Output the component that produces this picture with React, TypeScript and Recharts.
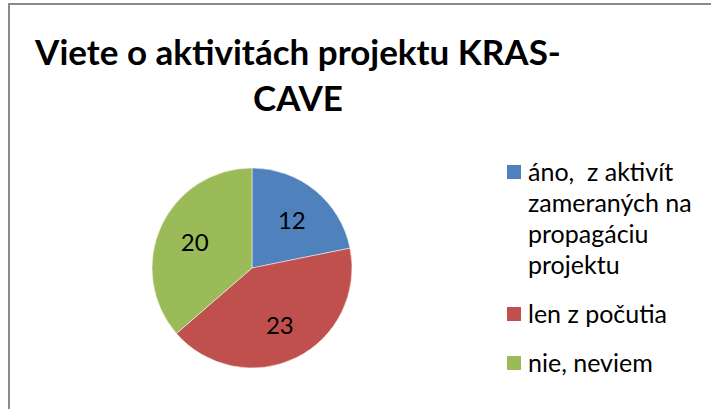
import React from "react";
import { PieChart, Pie, Cell, Legend } from "recharts";

const categories = [
  "áno,  z aktivít zameraných na propagáciu projektu",
  "len z počutia",
  "nie, neviem",
];
const counts = [12, 23, 20];
const colors = ["#4F81BD", "#C0504D", "#9BBB59"];
const titleLines = ["Viete o aktivitách projektu KRAS-", "CAVE"];

const data = categories.map((name, i) => ({ name, value: counts[i] }));

const RAD = Math.PI / 180;
const FONT = "Lato, 'Open Sans', sans-serif";

const renderLabel = (props: any) => {
  const { cx, cy, midAngle, outerRadius, value } = props;
  const r = outerRadius * 0.63;
  const x = cx + r * Math.cos(-midAngle * RAD);
  const y = cy + r * Math.sin(-midAngle * RAD);
  return (
    <text
      x={x}
      y={y}
      fill="#000"
      fontSize={24}
      fontFamily={FONT}
      textAnchor="middle"
      dominantBaseline="central"
    >
      {value}
    </text>
  );
};

const renderLegend = (props: any) => {
  // keep the data order (recharts sorts legend items by name)
  const payload = [...(props.payload || [])].sort(
    (a: any, b: any) => categories.indexOf(a.value) - categories.indexOf(b.value)
  );
  return (
    <ul style={{ listStyle: "none", margin: 0, padding: 0, width: 190 }}>
      {payload.map((entry: any, i: number) => (
        <li
          key={i}
          style={{
            display: "flex",
            alignItems: "flex-start",
            marginBottom: 18,
            fontFamily: FONT,
            fontSize: 25,
            lineHeight: "31px",
            color: "#000",
          }}
        >
          <span
            style={{
              display: "inline-block",
              width: 14,
              height: 14,
              background: entry.color,
              marginTop: 9,
              marginRight: 7,
              flex: "none",
            }}
          />
          <span style={{ whiteSpace: "pre-wrap" }}>{entry.value}</span>
        </li>
      ))}
    </ul>
  );
};

export default function App() {
  return (
    <div
      style={{
        position: "absolute",
        left: 0,
        top: 0,
        width: 711,
        height: 409,
        overflow: "hidden",
        background: "#fff",
      }}
    >
      <div
        style={{
          position: "absolute",
          left: 8,
          top: 3,
          width: 740,
          height: 440,
          border: "2px solid #8a8a8a",
        }}
      />
      <div
        style={{
          position: "absolute",
          left: 18,
          top: 28,
          width: 560,
          textAlign: "center",
          fontFamily: FONT,
          fontWeight: 700,
          fontSize: 35,
          lineHeight: "46px",
          color: "#000",
          whiteSpace: "nowrap",
        }}
      >
        {titleLines.map((t, i) => (
          <div key={i}>{t}</div>
        ))}
      </div>
      <div style={{ position: "absolute", left: 0, top: 0 }}>
        <PieChart width={711} height={409}>
          <Pie
            data={data}
            dataKey="value"
            nameKey="name"
            cx={247}
            cy={263}
            outerRadius={100}
            startAngle={90}
            endAngle={-270}
            stroke="#fff"
            strokeWidth={0.5}
            label={renderLabel}
            labelLine={false}
            isAnimationActive={false}
          >
            {data.map((d, i) => (
              <Cell key={d.name} fill={colors[i]} />
            ))}
          </Pie>
          <Legend
            layout="vertical"
            content={renderLegend}
            wrapperStyle={{ left: 507, top: 156, width: 195 }}
          />
        </PieChart>
      </div>
    </div>
  );
}
